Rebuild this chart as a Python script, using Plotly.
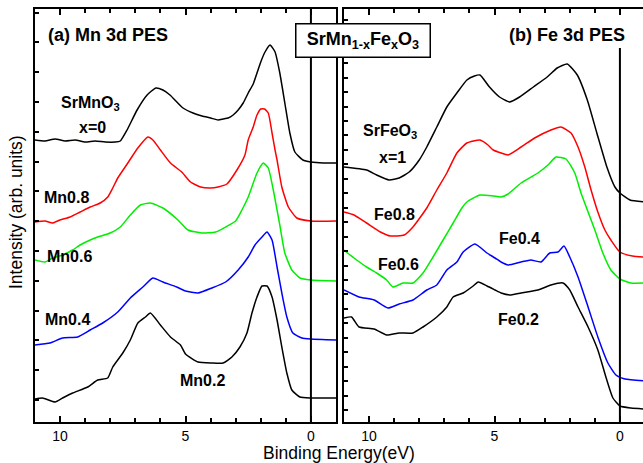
import plotly.graph_objects as go

# ---- Mn 3d PES (panel a) ----
mn_x0_E = [11.0, 10.6, 10.2, 9.8, 9.4, 9.0, 8.6, 8.2, 7.8, 7.6, 7.33, 6.93, 6.53, 6.18, 5.9, 5.62, 5.1, 4.7,
           4.34, 4.0, 3.7, 3.5, 3.3, 3.1, 2.9, 2.7, 2.5, 2.3, 2.15, 2.0, 1.83, 1.63, 1.43, 1.24, 1.04, 0.84,
           0.64, 0.32, 0.0, -0.5, -1.0]
mn_x0_I = [282, 281, 283, 281, 282, 280, 281, 280, 280, 281, 292, 312, 327, 334, 332, 327, 314, 309,
           306, 304, 302, 303, 304, 307, 312, 319, 329, 338, 349, 360, 370, 377, 370, 349, 319, 289,
           270, 262, 260, 259, 259]

mn08_E = [11.0, 10.6, 10.3, 10.0, 9.6, 9.2, 8.8, 8.4, 8.1, 7.9, 7.7, 7.3, 6.9, 6.5, 6.3, 6.0, 5.6, 5.15,
          4.8, 4.4, 4.0, 3.7, 3.35, 2.95, 2.63, 2.5, 2.3, 2.15, 2.0, 1.85, 1.7, 1.55, 1.43, 1.35, 1.16,
          0.9, 0.56, 0.0, -1.0]
mn08_I = [200, 201, 199, 202, 205, 210, 215, 219, 225, 234, 244, 259, 274, 285, 282, 272, 259, 250,
          240, 235, 234, 235, 238, 252, 267, 282, 295, 307, 313, 313, 309, 289, 272, 262, 235,
          215, 204, 201, 201]

mn06_E = [11.0, 10.6, 10.3, 9.9, 9.5, 9.2, 8.8, 8.5, 8.0, 7.6, 7.2, 6.8, 6.4, 5.9, 5.3, 4.9, 4.35, 3.8,
          3.4, 3.0, 2.75, 2.5, 2.15, 1.9, 1.7, 1.5, 1.35, 1.24, 1.04, 0.76, 0.44, 0.0, -1.0]
mn06_I = [162, 160, 164, 167, 172, 177, 182, 185, 189, 195, 207, 217, 219, 214, 202, 192, 189, 190,
          195, 201, 212, 225, 249, 259, 254, 232, 212, 197, 169, 152, 144, 142, 141]

mn04_E = [11.0, 10.4, 9.9, 9.3, 8.8, 8.3, 7.7, 7.2, 6.7, 6.3, 5.9, 5.35, 5.0, 4.5, 3.95, 3.4, 2.9, 2.5,
          2.23, 1.95, 1.75, 1.55, 1.35, 1.16, 0.96, 0.72, 0.36, 0.0, -1.0]
mn04_I = [77, 79, 84, 85, 92, 99, 110, 124, 135, 144, 140, 135, 131, 129, 134, 140, 152, 165,
          177, 185, 190, 182, 155, 129, 105, 89, 84, 83, 82]

mn02_E = [11.0, 10.7, 10.2, 9.9, 9.5, 8.9, 8.5, 8.1, 7.9, 7.5, 7.2, 6.9, 6.6, 6.4, 6.0, 5.6, 5.2, 5.0,
          4.5, 3.95, 3.5, 3.15, 2.83, 2.55, 2.35, 2.15, 1.95, 1.75, 1.55, 1.35, 1.16, 0.96, 0.76, 0.44,
          0.0, -1.0]
mn02_I = [23, 24, 20, 24, 29, 35, 42, 44, 55, 69, 82, 99, 105, 109, 97, 85, 77, 68,
          60, 59, 59, 65, 75, 89, 109, 125, 136, 136, 125, 102, 75, 49, 32, 25,
          24, 24]

# ---- Fe 3d PES (panel b) ----
fe_x1_E = [11.0, 10.1, 9.7, 9.2, 8.8, 8.4, 8.0, 7.7, 7.3, 6.9, 6.5, 6.1, 5.8, 5.58, 5.2, 4.8, 4.4, 4.0,
           3.45, 2.9, 2.5, 2.1, 1.7, 1.3, 0.92, 0.52, 0.2, 0.0, -0.4, -1.0]
fe_x1_I = [255, 252, 247, 242, 244, 250, 262, 275, 295, 315, 329, 342, 346, 347, 335, 325, 320, 325,
           335, 345, 354, 358, 347, 322, 289, 255, 235, 229, 222, 220]

fe08_E = [11.0, 10.6, 10.1, 9.55, 9.15, 8.6, 8.25, 7.7, 7.3, 6.9, 6.5, 6.1, 5.58, 5.26, 5.05, 4.74, 4.46,
          3.94, 3.4, 2.75, 2.35, 1.95, 1.67, 1.4, 1.15, 0.88, 0.6, 0.36, 0.0, -0.5, -1.0]
fe08_I = [210, 207, 199, 190, 186, 187, 195, 214, 232, 249, 269, 279, 282, 277, 272, 269, 267,
          275, 284, 292, 295, 289, 275, 255, 232, 210, 192, 182, 170, 166, 165]

fe06_E = [11.0, 10.6, 10.1, 9.7, 9.3, 9.05, 8.65, 8.25, 7.85, 7.45, 7.05, 6.65, 6.3, 6.1, 5.58, 5.05,
          4.74, 4.46, 3.94, 3.27, 2.87, 2.55, 2.15, 1.8, 1.55, 1.27, 1.0, 0.68, 0.36, 0.0, -0.44, -1.0]
fe06_I = [172, 164, 155, 149, 142, 135, 139, 139, 149, 165, 182, 199, 214, 220, 227, 226,
          225, 228, 239, 249, 257, 265, 263, 249, 229, 210, 192, 169, 152, 143, 139, 139]

fe04_E = [11.0, 10.4, 9.8, 9.25, 8.8, 8.25, 7.7, 7.3, 6.9, 6.5, 6.25, 5.78, 5.3, 4.98, 4.74, 4.46, 3.94,
          3.55, 3.15, 2.8, 2.47, 2.23, 2.0, 1.67, 1.27, 0.88, 0.48, 0.16, -0.2, -1.0]
fe04_I = [132, 125, 122, 114, 118, 122, 132, 137, 152, 160, 170, 178, 169, 164, 160, 157, 160,
          162, 160, 169, 170, 176, 165, 145, 115, 85, 59, 47, 43, 41]

fe02_E = [11.0, 10.7, 10.4, 9.8, 9.3, 8.8, 8.25, 7.85, 7.3, 6.9, 6.65, 6.25, 5.85, 5.65, 5.3, 4.98,
          4.74, 4.34, 3.94, 3.27, 2.75, 2.27, 2.0, 1.67, 1.27, 0.88, 0.56, 0.28, 0.0, -0.44, -1.0]
fe02_I = [104, 105, 95, 93, 87, 89, 89, 95, 105, 115, 125, 129, 136, 140, 136, 132,
          129, 127, 129, 132, 137, 139, 132, 115, 95, 72, 45, 24, 16, 14, 13]

COLORS = ["#000000", "#ff0000", "#00ee00", "#0000ff", "#000000"]

mn_series = [(mn_x0_E, mn_x0_I), (mn08_E, mn08_I), (mn06_E, mn06_I), (mn04_E, mn04_I), (mn02_E, mn02_I)]
fe_series = [(fe_x1_E, fe_x1_I), (fe08_E, fe08_I), (fe06_E, fe06_I), (fe04_E, fe04_I), (fe02_E, fe02_I)]

FONT = "Arial, 'Liberation Sans', sans-serif"

fig = go.Figure()
for (e, i), c in zip(mn_series, COLORS):
    fig.add_trace(go.Scatter(x=e, y=i, mode="lines", line=dict(color=c, width=1.5, shape="spline", smoothing=0.5),
                             xaxis="x", yaxis="y", showlegend=False, hoverinfo="skip"))
for (e, i), c in zip(fe_series, COLORS):
    fig.add_trace(go.Scatter(x=e, y=i, mode="lines", line=dict(color=c, width=1.5, shape="spline", smoothing=0.5),
                             xaxis="x2", yaxis="y2", showlegend=False, hoverinfo="skip"))

W, H = 643, 463
ML, MR, MT, MB = 35, 0, 9, 41
PW = W - ML - MR

Y_MAX = 413

xaxis_common = dict(showline=True, linewidth=2, linecolor="black", mirror="ticks", ticks="inside",
                    ticklen=6, tickwidth=1.5, tickcolor="black", tick0=0, dtick=5, showgrid=False,
                    zeroline=False, tickfont=dict(family=FONT, size=14, color="black"),
                    minor=dict(ticks="inside", dtick=1, ticklen=4, tickwidth=1.5, tickcolor="black", showgrid=False))

fig.update_layout(
    width=W, height=H,
    margin=dict(l=ML, r=MR, t=MT, b=MB),
    paper_bgcolor="white", plot_bgcolor="white",
    font=dict(family=FONT, color="black"),
    xaxis=dict(domain=[0, 301 / PW], range=[11.0, -1.0], **xaxis_common),
    xaxis2=dict(domain=[309 / PW, 1.0], range=[11.0, -0.92], anchor="y2", **xaxis_common),
    yaxis=dict(domain=[0, 1], range=[0, Y_MAX], showline=True, linewidth=2, linecolor="black", mirror=True,
               ticks="inside", ticklen=4, tickwidth=1.5, tickcolor="black", tick0=22, dtick=29.8,
               showticklabels=False, showgrid=False, zeroline=False),
    yaxis2=dict(domain=[0, 1], range=[0, Y_MAX], anchor="x2", showline=True, linewidth=2, linecolor="black",
                ticks="inside", ticklen=4, tickwidth=1.5, tickcolor="black", tick0=12, dtick=14.45,
                showticklabels=False, showgrid=False, zeroline=False),
)

# Fermi-level markers at 0 eV
fig.add_shape(type="line", xref="x", yref="y", x0=0, x1=0, y0=0, y1=Y_MAX, line=dict(color="black", width=2))
fig.add_shape(type="line", xref="x2", yref="y2", x0=0, x1=0, y0=0, y1=374, line=dict(color="black", width=2))

def px_to_paper(px, py):
    return (px - ML) / PW, (H - MB - py) / (H - MT - MB)

annots = []
bold = dict(family=FONT, size=18, color="black")
lab = dict(family=FONT, size=16, color="black")

# panel titles
annots.append(dict(xref="x", yref="y", x=10.55, y=387, text="<b>(a) Mn 3d PES</b>", showarrow=False,
                   xanchor="left", yanchor="middle", font=bold))
annots.append(dict(xref="x2", yref="y2", x=4.5, y=387, text="<b>(b) Fe 3d PES</b>", showarrow=False,
                   xanchor="left", yanchor="middle", font=bold))

# compound legend box
bx, by = px_to_paper(363, 40.5)
annots.append(dict(xref="paper", yref="paper", x=bx, y=by, xanchor="center", yanchor="middle",
                   text="<b>SrMn<sub>1-x</sub>Fe<sub>x</sub>O<sub>3</sub></b>",
                   showarrow=False, font=dict(family=FONT, size=18, color="black"), bgcolor="white",
                   bordercolor="black", borderwidth=1.5, width=131, height=30))

# curve labels, panel a
for x, y, t in [(8.8, 319, "SrMnO<sub>3</sub>"), (8.7, 295, "x=0"), (9.75, 225, "Mn0.8"),
                (9.64, 166, "Mn0.6"), (9.72, 103, "Mn0.4"), (4.34, 42, "Mn0.2")]:
    annots.append(dict(xref="x", yref="y", x=x, y=y, text=f"<b>{t}</b>", showarrow=False,
                       xanchor="center", yanchor="middle", font=lab))
# curve labels, panel b
for x, y, t in [(9.16, 291, "SrFeO<sub>3</sub>"), (9.06, 265, "x=1"), (9.0, 208, "Fe0.8"),
                (4.02, 184, "Fe0.4"), (8.84, 158, "Fe0.6"), (4.06, 103, "Fe0.2")]:
    annots.append(dict(xref="x2", yref="y2", x=x, y=y, text=f"<b>{t}</b>", showarrow=False,
                       xanchor="center", yanchor="middle", font=lab))

# axis titles
tx, ty = px_to_paper(339, 453)
annots.append(dict(xref="paper", yref="paper", x=tx, y=ty, xanchor="center", yanchor="middle",
                   text="Binding Energy(eV)", showarrow=False,
                   font=dict(family=FONT, size=17.5, color="black")))
tx, ty = px_to_paper(16, 212)
annots.append(dict(xref="paper", yref="paper", x=tx, y=ty, xanchor="center", yanchor="middle",
                   text="Intensity (arb. units)", showarrow=False,
                   textangle=-90, font=dict(family=FONT, size=17.5, color="black")))

fig.update_layout(annotations=annots)
fig.write_html("out.html")
